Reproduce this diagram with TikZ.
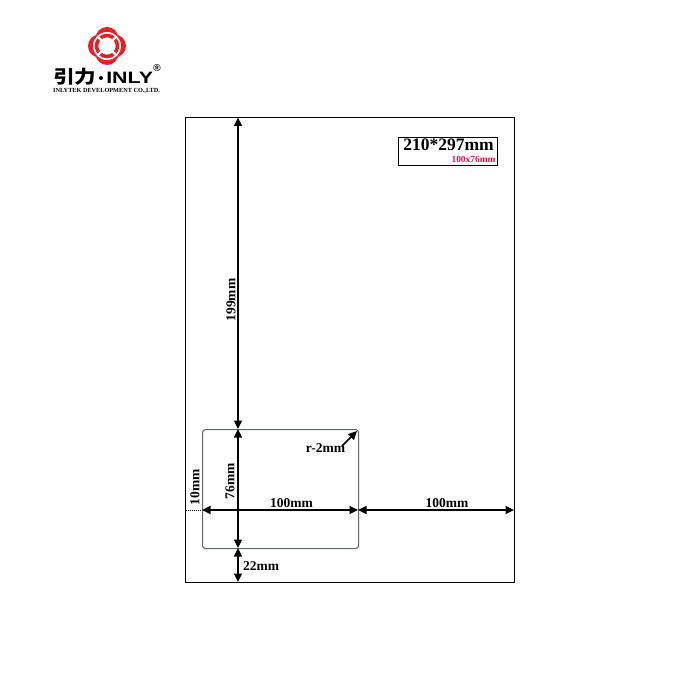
\documentclass[tikz,border=0pt]{standalone}
\usepackage{fontspec}
\setmainfont{Liberation Serif}
\newfontfamily\cjk{Noto Sans CJK SC}
\newfontfamily\logosans{Liberation Sans}
\usetikzlibrary{arrows.meta}
\definecolor{logored}{RGB}{232,32,38}
\definecolor{labelred}{RGB}{226,20,80}
\definecolor{edgegray}{RGB}{95,100,100}
\tikzset{
 x=1pt,y=-1pt,
 dim/.style={line width=1.4pt,black,{Triangle[length=8.5pt,width=8pt]}-{Triangle[length=8.5pt,width=8pt]}},
 dimtext/.style={font=\bfseries\fontsize{13.5}{13.5}\selectfont,inner sep=0pt,text=black},
 frameline/.style={draw=black,line width=1pt},
 labelline/.style={draw=edgegray,line width=1.1pt,rounded corners=3pt},
}
\begin{document}
\begin{tikzpicture}
\useasboundingbox (0,0) rectangle (700,700);
% logo
\begin{scope}[shift={(107,46)}]
\foreach \a in {0,90,180,270}{\fill[logored] (\a:7.5) circle (11.5);}
\fill[white] (0,0) circle (14);
\draw[logored,line width=3.6pt] (0,0) circle (10.5);
\fill[white] (0,0) circle (8);
\foreach \a in {45,135,225,315}{\draw[white,line width=2.2pt] (\a:7) -- (\a:13);
 \draw[white,line width=2pt] (\a:17) -- (\a:24);}
\end{scope}
\node[inner sep=0pt,anchor=west,xscale=1.2,font=\cjk\bfseries\fontsize{18}{18}\selectfont] (cn) at (53,77) {引力};
\fill[black] (101,78) circle (2);
\node[inner sep=0pt,anchor=west,xscale=1.3,font=\logosans\bfseries\fontsize{16.5}{16.5}\selectfont] (en) at (106,78) {INLY};
\node[inner sep=0pt,font=\logosans\bfseries\fontsize{10}{10}\selectfont] (reg) at (157,68) {®};
\node[inner sep=0pt,anchor=west,font=\bfseries\fontsize{6.25}{6.25}\selectfont] (co) at (53,91) {INLYTEK DEVELOPMENT CO.,LTD.};
% frames
\node[frameline,minimum width=329pt,minimum height=465pt,inner sep=0pt,anchor=north west] (page) at (185,117) {};
\node[labelline,minimum width=156pt,minimum height=119pt,inner sep=0pt,anchor=north west] (label) at (202,429) {};
\node[draw=black,line width=0.8pt,minimum width=99pt,minimum height=28pt,inner sep=0pt,anchor=north west] (title) at (398,137) {};
\node[inner sep=0pt,font=\bfseries\fontsize{17.5}{17.5}\selectfont] (size) at (448.5,145) {210*297mm};
\node[inner sep=0pt,text=labelred,font=\bfseries\fontsize{9.4}{9.4}\selectfont] (sub) at (473.5,159) {100x76mm};
% connector anchors
\coordinate (t1) at (238,117.5);
\coordinate (t2) at (238,429);
\coordinate (b1) at (238,548);
\coordinate (b2) at (238,582);
\coordinate (l0) at (186,510);
\coordinate (l1) at (202,510);
\coordinate (l2) at (358,510);
\coordinate (r2) at (514,510);
\coordinate (rs) at (342,446);
\coordinate (re) at (357,431);
\draw[dim] (t1) -- (t2);
\draw[dim] (t2) -- (b1);
\draw[dim] (b1) -- (b2);
\draw[dim] (l1) -- (l2);
\draw[dim] (l2) -- (r2);
\draw[line width=1pt,densely dotted] (l0) -- (l1);
\draw[line width=1.5pt,-{Triangle[length=8.5pt,width=8pt]}] (rs) -- (re);
% dimension texts
\node[dimtext,rotate=90] (d199) at (231,300) {199mm};
\node[dimtext,rotate=90] (d76) at (230,481) {76mm};
\node[dimtext,rotate=90] (d10) at (195,487) {10mm};
\node[dimtext] (d100a) at (291.5,503) {100mm};
\node[dimtext] (d100b) at (447,503) {100mm};
\node[dimtext] (d22) at (261,566) {22mm};
\node[dimtext] (rr) at (325.5,448) {r-2mm};
\end{tikzpicture}
\end{document}
